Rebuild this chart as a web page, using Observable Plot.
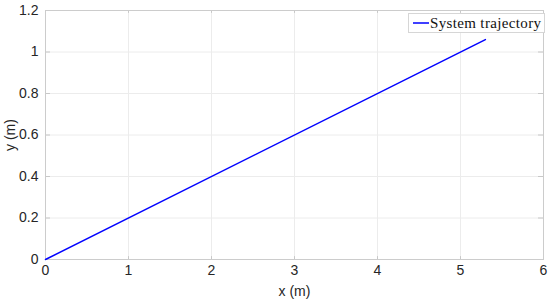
<!DOCTYPE html>
<html>
<head>
<meta charset="utf-8">
<script src="https://cdn.jsdelivr.net/npm/d3@7"></script>
<script src="https://cdn.jsdelivr.net/npm/@observablehq/plot@0.6"></script>
<style>
  html, body { margin: 0; padding: 0; background: #fff; }
  #chart { position: relative; width: 550px; height: 301px; }
  .legend {
    position: absolute; left: 408px; top: 13px; height: 20px; box-sizing: border-box;
    border: 1px solid #d6d6d6; background: #fff; white-space: nowrap;
    font-family: "Liberation Serif", "Times New Roman", serif; font-size: 15px; letter-spacing: 0.35px;
    padding: 0 3px 0 4px; display: flex; align-items: center; color: #111;
  }
  .legend svg { margin-right: 1px; }
</style>
</head>
<body>
<div id="chart"></div>
<script>
const xs = [0, 5.3];
const ys = [0, 1.06];
const xTicks = [0, 1, 2, 3, 4, 5, 6];
const yTicks = [0, 0.2, 0.4, 0.6, 0.8, 1, 1.2];
const seriesName = "System trajectory";

const data = xs.map((x, i) => ({x, y: ys[i]}));
const font = "'Liberation Sans', Arial, Helvetica, sans-serif";
const fmt = d => String(d);

const plot = Plot.plot({
  width: 550,
  height: 301,
  marginLeft: 45,
  marginRight: 7,
  marginTop: 10,
  marginBottom: 42,
  style: {fontFamily: font, fontSize: "14px", color: "#262626", background: "#fff"},
  x: {domain: [0, 6]},
  y: {domain: [0, 1.2]},
  marks: [
    Plot.gridX(xTicks, {stroke: "#ececec", strokeOpacity: 1}),
    Plot.gridY(yTicks, {stroke: "#ececec", strokeOpacity: 1}),
    Plot.ruleX(xTicks, {y1: 0, y2: 0.014, stroke: "#c8c8c8"}),
    Plot.ruleX(xTicks, {y1: 1.2, y2: 1.186, stroke: "#c8c8c8"}),
    Plot.ruleY(yTicks, {x1: 0, x2: 0.06, stroke: "#c8c8c8"}),
    Plot.ruleY(yTicks, {x1: 6, x2: 5.94, stroke: "#c8c8c8"}),
    Plot.frame({stroke: "#cccccc"}),
    Plot.axisX(xTicks, {tickSize: 0, tickPadding: 6, fontSize: 14, tickFormat: fmt, label: "x (m)", labelAnchor: "center", labelOffset: 36, labelArrow: "none"}),
    Plot.axisY(yTicks, {tickSize: 0, tickPadding: 7, fontSize: 14, tickFormat: fmt, label: "y (m)", labelAnchor: "center", labelOffset: 40, labelArrow: "none"}),
    Plot.line(data, {x: "x", y: "y", stroke: "#0000ff", strokeWidth: 1.5})
  ]
});
const chart = document.getElementById("chart");
chart.appendChild(plot);
const leg = document.createElement("div");
leg.className = "legend";
leg.innerHTML = `<svg width="16" height="6"><line x1="0" x2="16" y1="3" y2="3" stroke="#0000ff" stroke-width="1.5"/></svg><span></span>`;
leg.lastChild.textContent = seriesName;
chart.appendChild(leg);
</script>
</body>
</html>
